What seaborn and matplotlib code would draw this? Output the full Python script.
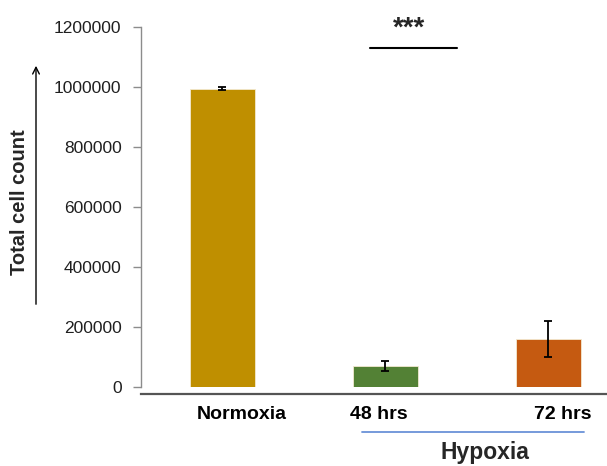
import matplotlib
matplotlib.use("Agg")
import matplotlib.pyplot as plt
import matplotlib.transforms as mtransforms
import seaborn as sns
import numpy as np

# Data
groups = ["Normoxia", "48 hrs", "72 hrs"]
means = [995000, 70000, 160000]
errors = [4000, 16000, 61000]
bar_colors = ["#BF8F00", "#538135", "#C55A11"]
y_ticks = [0, 200000, 400000, 600000, 800000, 1000000, 1200000]

sns.set_style("white")
plt.rcParams["font.family"] = ["Liberation Sans", "DejaVu Sans"]

fig = plt.figure(figsize=(6.07, 4.66), dpi=100)
ax = fig.add_axes([141 / 607, 1 - 387 / 466, 1 - 141 / 607, (387 - 27) / 466])

sns.barplot(x=groups, y=means, hue=groups, palette=bar_colors, legend=False,
            width=0.4, errorbar=None, saturation=1, ax=ax,
            edgecolor="#f3e9d0", linewidth=0.6)
ax.errorbar(range(len(groups)), means, yerr=errors, fmt="none",
            ecolor="black", elinewidth=1.3, capsize=2.6, capthick=1.3)

ax.set_xlim(-0.5, 2.36)
ax.set_ylim(0, 1200000)
ax.set_yticks(y_ticks)
ax.set_yticklabels([str(v) for v in y_ticks], fontsize=12.5, color="#1f1f1f")
ax.tick_params(axis="y", left=True, length=6, width=1, color="#8c8c8c", pad=8)
ax.tick_params(axis="x", bottom=False, length=0, pad=9)
ax.set_xlabel("")
ax.set_ylabel("")

for side in ["top", "right"]:
    ax.spines[side].set_visible(False)
ax.spines["left"].set_color("#8c8c8c")
ax.spines["left"].set_linewidth(1)
ax.spines["bottom"].set_position(("outward", 5))
ax.spines["bottom"].set_color("#555555")
ax.spines["bottom"].set_linewidth(1.6)

# category labels, shifted sideways from the bar centres
offsets_px = [19, -6.5, 14.5]
for lbl, dx in zip(ax.get_xticklabels(), offsets_px):
    lbl.set_fontsize(14)
    lbl.set_fontweight("bold")
    lbl.set_color("black")
    lbl.set_transform(lbl.get_transform() +
                      mtransforms.ScaledTranslation(dx / 100, 0, fig.dpi_scale_trans))

# y-axis title with arrow
fig.text(19.5 / 607, 1 - 202 / 466, "Total cell count", rotation=90,
         ha="center", va="center", fontsize=14.5, fontweight="bold")
fig.add_artist(matplotlib.patches.FancyArrowPatch(
    (36 / 607, 1 - 307 / 466), (36 / 607, 1 - 63 / 466),
    transform=fig.transFigure, arrowstyle="->", mutation_scale=12,
    color="black", linewidth=1.0))

# significance marker
fig.add_artist(matplotlib.lines.Line2D([370 / 607, 457 / 607], [1 - 48 / 466, 1 - 48 / 466],
                                       transform=fig.transFigure, color="black", linewidth=1.5))
fig.text(409 / 607, 1 - 36 / 466, "***", ha="center", va="baseline",
         fontsize=20, fontweight="bold")

# hypoxia group bracket
fig.add_artist(matplotlib.lines.Line2D([362 / 607, 584 / 607], [1 - 431.5 / 466, 1 - 431.5 / 466],
                                       transform=fig.transFigure, color="#6A92D8", linewidth=1.3))
fig.text(485 / 607, 1 - 459.5 / 466, "Hypoxia", ha="center", va="baseline",
         fontsize=16.5, fontweight="bold")

fig.savefig("out.png", dpi=100)
